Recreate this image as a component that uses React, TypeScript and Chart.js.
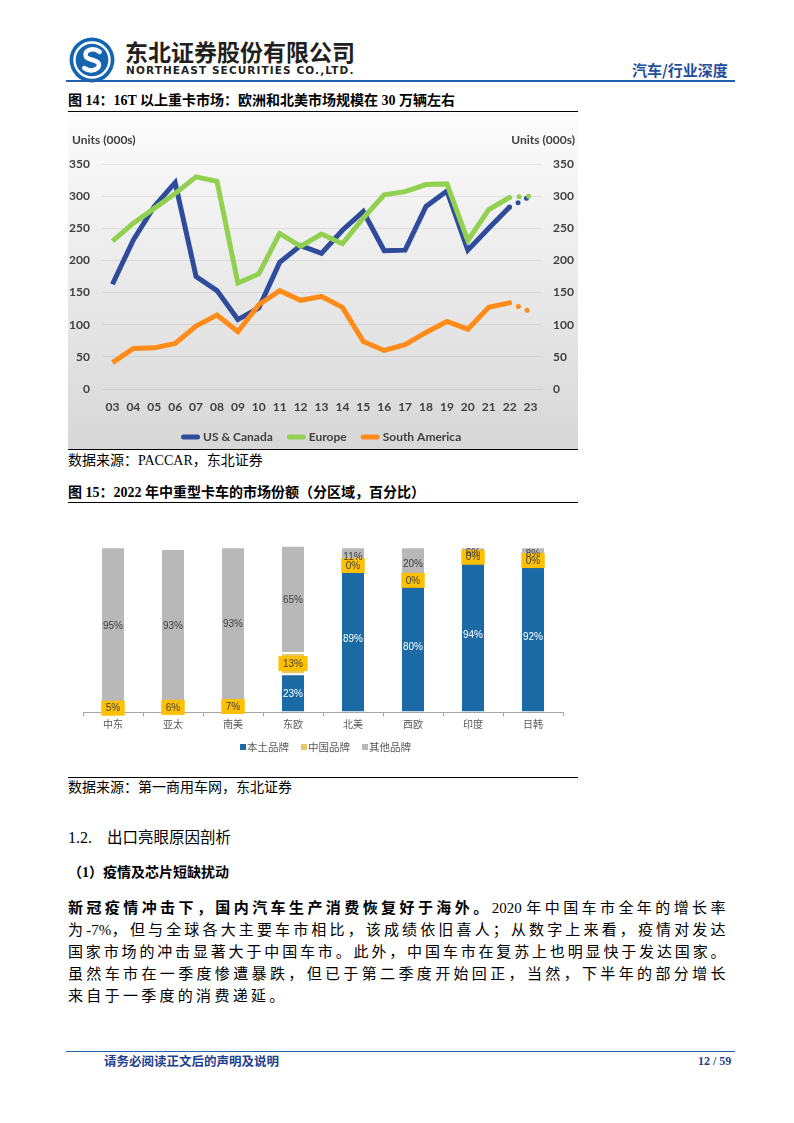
import React, { useEffect, useRef } from "react";
import { Chart, registerables } from "chart.js";

Chart.register(...registerables);

// ---------- Figure 14 data (units, 000s) ----------
const years = ["03", "04", "05", "06", "07", "08", "09", "10", "11", "12", "13", "14", "15", "16", "17", "18", "19", "20", "21", "22", "23"];
const usCanada = [163, 232, 284, 321, 175, 153, 108, 126, 197, 223, 211, 247, 276, 215, 216, 284, 308, 216, 250, 283];
const europe = [230, 258, 281, 304, 330, 323, 165, 179, 242, 222, 241, 226, 266, 302, 307, 318, 319, 231, 279, 298];
const southAmerica = [41, 63, 64, 71, 98, 115, 89, 131, 153, 138, 144, 127, 74, 60, 69, 88, 105, 93, 127, 134];
// dotted forecast segment: 22 -> 23
const usCanadaForecast = [283, 300];
const europeForecast = [298, 300];
const southAmericaForecast = [134, 120];
const unitsLabel = "Units (000s)";

// ---------- Figure 15 data (%) ----------
const regions = ["中东", "亚太", "南美", "东欧", "北美", "西欧", "印度", "日韩"];
const localBrand = [0, 0, 0, 23, 89, 80, 94, 92];
const chineseBrand = [5, 6, 7, 13, 0, 0, 0, 0];
const otherBrand = [95, 93, 93, 65, 11, 20, 6, 8];
const brandNames = ["本土品牌", "中国品牌", "其他品牌"];

const CJK = '"Noto Sans CJK SC"';
const SERIF_CJK = '"Liberation Serif", "Noto Sans CJK SC"';

const US_COLOR = "#2F4B9C";
const EU_COLOR = "#92D050";
const SA_COLOR = "#FF8B1A";

const BLUE = "#1B6AA5";
const YELLOW = "#E8C766";
const GRAY = "#B8B8B8";

function padTo(arr: (number | null)[], len: number) {
  return [...arr, ...Array(len - arr.length).fill(null)];
}
function forecast(arr: number[], len: number) {
  return [...Array(len - arr.length).fill(null), ...arr];
}

function LineChart() {
  const ref = useRef<HTMLCanvasElement>(null);
  useEffect(() => {
    const n = years.length;
    const tickColor = "#404040";
    const font = { family: "Lato", size: 12, weight: "bold" as const };
    const legendItems = [
      { label: "US & Canada", color: US_COLOR },
      { label: "Europe", color: EU_COLOR },
      { label: "South America", color: SA_COLOR },
    ];
    const overlay = {
      id: "overlay",
      afterDraw(chart: any) {
        const ctx = chart.ctx;
        ctx.save();
        ctx.font = "bold 12px Lato";
        ctx.fillStyle = tickColor;
        ctx.textBaseline = "middle";
        ctx.textAlign = "left";
        ctx.fillText(unitsLabel, 4, 27);
        ctx.textAlign = "right";
        ctx.fillText(unitsLabel, 507, 27);
        ctx.textAlign = "left";
        let x = 113;
        const y = 324;
        for (const it of legendItems) {
          ctx.strokeStyle = it.color;
          ctx.lineWidth = 5;
          ctx.lineCap = "round";
          ctx.beginPath();
          ctx.moveTo(x + 2.5, y);
          ctx.lineTo(x + 16.5, y);
          ctx.stroke();
          ctx.fillStyle = tickColor;
          ctx.fillText(it.label, x + 22, y + 0.5);
          x += 22 + ctx.measureText(it.label).width + 14;
        }
        ctx.restore();
      },
    };
    const base = { borderWidth: 5, pointRadius: 0, tension: 0, fill: false, yAxisID: "y" };
    const dotted = { ...base, borderDash: [0, 9.5], borderCapStyle: "round" as const };
    const chart = new Chart(ref.current!, {
      type: "line",
      data: {
        labels: years,
        datasets: [
          { ...base, label: "US & Canada", data: padTo(usCanada, n), borderColor: US_COLOR, order: 3 },
          { ...dotted, label: "US fc", data: forecast(usCanadaForecast, n), borderColor: US_COLOR, order: 3 },
          { ...base, label: "Europe", data: padTo(europe, n), borderColor: EU_COLOR, order: 2 },
          { ...dotted, label: "EU fc", data: forecast(europeForecast, n), borderColor: EU_COLOR, order: 2 },
          { ...base, label: "South America", data: padTo(southAmerica, n), borderColor: SA_COLOR, order: 1 },
          { ...dotted, label: "SA fc", data: forecast(southAmericaForecast, n), borderColor: SA_COLOR, order: 1 },
        ] as any,
      },
      options: {
        responsive: false,
        animation: false,
        events: [],
        layout: { padding: { top: 51, left: 0, right: 0, bottom: 0 } },
        plugins: { legend: { display: false }, tooltip: { enabled: false } },
        scales: {
          x: {
            offset: true,
            grid: { display: false, drawTicks: false },
            border: { display: false },
            ticks: { font, color: tickColor, padding: 11, autoSkip: false, maxRotation: 0 },
            afterFit: (s: any) => {
              s.height = 60;
            },
          },
          y: {
            position: "left",
            min: 0,
            max: 350,
            ticks: { stepSize: 50, font, color: tickColor, padding: 12 },
            grid: { color: "rgba(0,0,0,0.075)", drawTicks: false, lineWidth: 1 },
            border: { display: false },
            afterFit: (s: any) => {
              s.width = 34;
            },
          },
          y2: {
            position: "right",
            min: 0,
            max: 350,
            ticks: { stepSize: 50, font, color: tickColor, padding: 12 },
            grid: { display: false, drawTicks: false },
            border: { display: false },
            afterFit: (s: any) => {
              s.width = 37;
            },
          },
        },
      } as any,
      plugins: [overlay],
    });
    return () => chart.destroy();
  }, []);
  return <canvas ref={ref} width={510} height={336} style={{ display: "block", width: 510, height: 336 }} />;
}

function BarChart() {
  const ref = useRef<HTMLCanvasElement>(null);
  useEffect(() => {
    const labelFont = '10px "Liberation Sans"';
    const segLabels = {
      id: "segLabels",
      afterDatasetsDraw(chart: any) {
        const ctx = chart.ctx;
        ctx.save();
        ctx.font = labelFont;
        ctx.textAlign = "center";
        ctx.textBaseline = "middle";
        const items: { x: number; y: number; text: string; di: number }[] = [];
        chart.data.datasets.forEach((ds: any, di: number) => {
          const meta = chart.getDatasetMeta(di);
          meta.data.forEach((el: any, i: number) => {
            const v = ds.data[i];
            if (v === 0 && di !== 1) return;
            const p = el.getProps(["x", "y", "base"], true);
            items.push({ x: p.x, y: (p.y + p.base) / 2, text: v + "%", di });
          });
        });
        items
          .filter((it) => it.di === 1)
          .forEach((it) => {
            const w = ctx.measureText(it.text).width + 9;
            ctx.fillStyle = "#FFC000";
            ctx.fillRect(it.x - w / 2, it.y - 7.5, w, 15);
          });
        items.forEach((it) => {
          ctx.fillStyle = it.di === 0 ? "#FFFFFF" : "#404040";
          ctx.fillText(it.text, it.x, it.y + 0.5);
        });
        ctx.restore();
      },
      afterDraw(chart: any) {
        const ctx = chart.ctx;
        ctx.save();
        ctx.font = `10.5px ${CJK}`;
        ctx.textBaseline = "middle";
        ctx.textAlign = "left";
        const colors = [BLUE, YELLOW, GRAY];
        let x = 172;
        const y = 241;
        brandNames.forEach((name, i) => {
          ctx.fillStyle = colors[i];
          ctx.fillRect(x, y - 3, 6, 6);
          ctx.fillStyle = "#595959";
          ctx.fillText(name, x + 7, y);
          x += 7 + ctx.measureText(name).width + 12;
        });
        ctx.restore();
      },
    };
    const common = { borderWidth: 1, borderColor: "rgba(255,255,255,0.45)", borderSkipped: false, categoryPercentage: 1, barPercentage: 0.4 };
    const chart = new Chart(ref.current!, {
      type: "bar",
      data: {
        labels: regions,
        datasets: [
          { ...common, label: brandNames[0], data: localBrand, backgroundColor: BLUE },
          { ...common, label: brandNames[1], data: chineseBrand, backgroundColor: YELLOW },
          { ...common, label: brandNames[2], data: otherBrand, backgroundColor: GRAY },
        ] as any,
      },
      options: {
        responsive: false,
        animation: false,
        events: [],
        layout: { padding: { top: 39.7, left: 15, right: 15, bottom: 0 } },
        plugins: { legend: { display: false }, tooltip: { enabled: false } },
        scales: {
          x: {
            stacked: true,
            grid: { display: true, drawOnChartArea: false, drawTicks: true, tickLength: 4, color: "#A6A6A6", offset: true },
            border: { display: true, color: "#A6A6A6", width: 1 },
            ticks: { font: { family: "Noto Sans CJK SC", size: 10 }, color: "#595959", padding: 2, autoSkip: false, maxRotation: 0 },
            afterFit: (s: any) => {
              s.height = 62.7;
            },
          },
          y: { stacked: true, display: false, min: 0, max: 101 },
        },
      } as any,
      plugins: [segLabels],
    });
    return () => chart.destroy();
  }, []);
  return <canvas ref={ref} width={510} height={269} style={{ display: "block", width: 510, height: 269 }} />;
}

const abs = (left: number, top: number, extra: React.CSSProperties = {}): React.CSSProperties => ({
  position: "absolute",
  left,
  top,
  margin: 0,
  padding: 0,
  whiteSpace: "nowrap",
  ...extra,
});

function Logo() {
  return (
    <svg width={46} height={46} viewBox="0 0 42 42" style={abs(69, 37)}>
      <circle cx={21} cy={21} r={20.5} fill="#1565B0" />
      <circle cx={21} cy={21} r={16} fill="none" stroke="#FFFFFF" strokeWidth={2.2} />
      <path d="M28 13.5 C22 9, 13 12, 15.5 18 C17 21, 25 20.5, 27 24 C29.5 29, 20 33, 14 28.5" fill="none" stroke="#FFFFFF" strokeWidth={4.2} strokeLinecap="round" />
    </svg>
  );
}

const bodyLine = (top: number, extra: React.CSSProperties = {}): React.CSSProperties => ({
  position: "absolute",
  left: 68,
  top,
  width: 660,
  fontFamily: SERIF_CJK,
  fontSize: 15,
  lineHeight: "20px",
  letterSpacing: 2.5,
  textAlign: "justify",
  textAlignLast: "justify" as any,
  color: "#000",
  ...extra,
});

const latin: React.CSSProperties = { letterSpacing: 0 };

export default function App() {
  const rule = (top: number, width: number, h = 1.5, color = "#000", left = 68): React.CSSProperties => ({
    position: "absolute",
    left,
    top,
    width,
    height: h,
    background: color,
  });
  return (
    <div style={{ position: "absolute", left: 0, top: 0, width: 794, height: 1123, background: "#fff", overflow: "hidden" }}>
      {/* header */}
      <Logo />
      <div style={abs(125, 38, { fontFamily: CJK, fontWeight: 700, fontSize: 23, lineHeight: "26px", color: "#231F20" })}>东北证券股份有限公司</div>
      <div style={abs(126, 64, { fontFamily: '"DejaVu Sans"', fontWeight: 700, fontSize: 10.5, lineHeight: "13px", letterSpacing: 1.1, color: "#231F20" })}>NORTHEAST SECURITIES CO.,LTD.</div>
      <div style={abs(632, 61, { fontFamily: CJK, fontWeight: 700, fontSize: 15, lineHeight: "18px", color: "#1F4E9C" })}>汽车/行业深度</div>
      <div style={rule(79.5, 669, 2, "#2060AE", 66)} />

      {/* figure 14 */}
      <div style={abs(68, 91, { fontFamily: SERIF_CJK, fontWeight: 700, fontSize: 14, lineHeight: "20px", color: "#000" })}>图 14：16T 以上重卡市场：欧洲和北美市场规模在 30 万辆左右</div>
      <div style={rule(110.5, 510)} />
      <div style={{ position: "absolute", left: 68, top: 113, width: 510, height: 336, background: "linear-gradient(to bottom, #FCFCFC 0%, #D7D7D7 100%)" }}>
        <LineChart />
      </div>
      <div style={rule(448.5, 510)} />
      <div style={abs(68, 451, { fontFamily: SERIF_CJK, fontSize: 14, lineHeight: "20px", color: "#000" })}>数据来源：PACCAR，东北证券</div>

      {/* figure 15 */}
      <div style={abs(68, 483, { fontFamily: SERIF_CJK, fontWeight: 700, fontSize: 14, lineHeight: "20px", color: "#000" })}>图 15：2022 年中重型卡车的市场份额（分区域，百分比）</div>
      <div style={rule(501.5, 510)} />
      <div style={{ position: "absolute", left: 68, top: 506, width: 510, height: 269 }}>
        <BarChart />
      </div>
      <div style={rule(776.5, 510)} />
      <div style={abs(68, 778, { fontFamily: SERIF_CJK, fontSize: 14, lineHeight: "20px", color: "#000" })}>数据来源：第一商用车网，东北证券</div>

      {/* text section */}
      <div style={abs(68, 827, { fontFamily: SERIF_CJK, fontSize: 16, lineHeight: "22px", color: "#000" })}>1.2.</div>
      <div style={abs(107, 827, { fontFamily: SERIF_CJK, fontSize: 15.5, lineHeight: "22px", color: "#000" })}>出口亮眼原因剖析</div>
      <div style={abs(68, 863, { fontFamily: SERIF_CJK, fontWeight: 700, fontSize: 14, lineHeight: "20px", color: "#000" })}>（1）疫情及芯片短缺扰动</div>

      <div style={bodyLine(898)}>
        <b style={{ fontWeight: 700 }}>新冠疫情冲击下，国内汽车生产消费恢复好于海外。</b>
        <span style={latin}>2020 </span>年中国车市全年的增长率
      </div>
      <div style={bodyLine(920)}>
        为<span style={latin}>-7%</span>，但与全球各大主要车市相比，该成绩依旧喜人；从数字上来看，疫情对发达
      </div>
      <div style={bodyLine(942)}>国家市场的冲击显著大于中国车市。此外，中国车市在复苏上也明显快于发达国家。</div>
      <div style={bodyLine(964)}>虽然车市在一季度惨遭暴跌，但已于第二季度开始回正，当然，下半年的部分增长</div>
      <div style={bodyLine(986, { textAlign: "left", textAlignLast: "left" as any, letterSpacing: 3.3 })}>来自于一季度的消费递延。</div>

      {/* footer */}
      <div style={rule(1050.5, 669, 1.5, "#2060AE", 66)} />
      <div style={abs(104, 1053, { fontFamily: CJK, fontWeight: 700, fontSize: 12.5, lineHeight: "16px", color: "#1F3F8F" })}>请务必阅读正文后的声明及说明</div>
      <div style={abs(698, 1053, { fontFamily: '"Liberation Serif"', fontWeight: 700, fontSize: 12, lineHeight: "16px", color: "#1F3F8F" })}>12 / 59</div>
    </div>
  );
}
